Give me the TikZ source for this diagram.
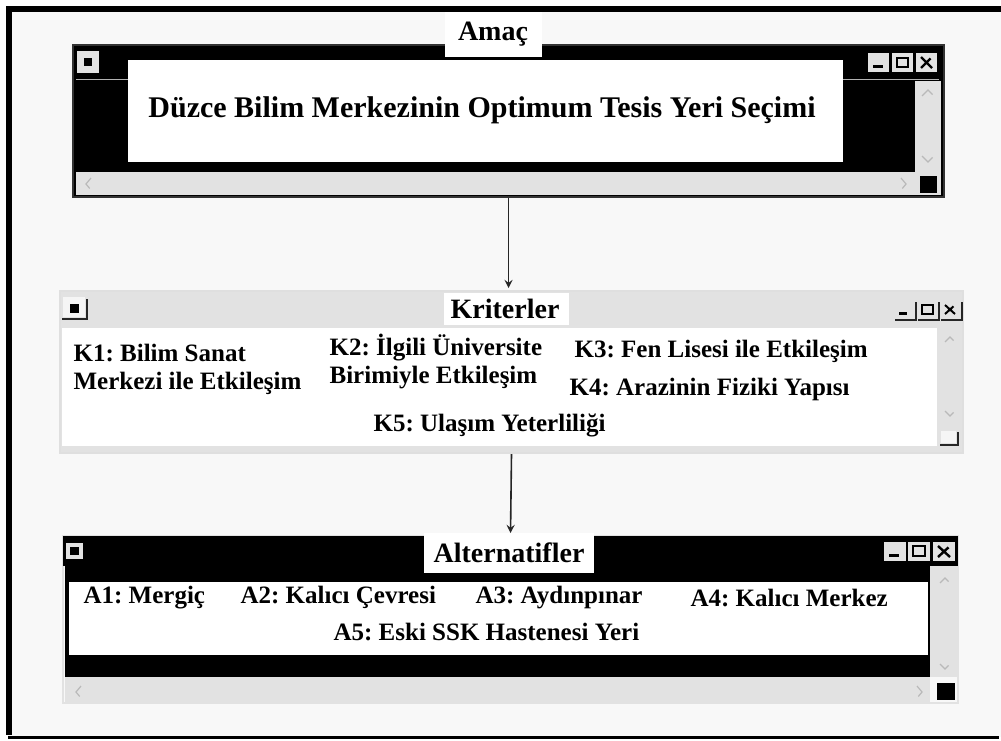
\documentclass[tikz,border=0pt]{standalone}
\usepackage{fontspec}
\setmainfont{Liberation Serif}
\usetikzlibrary{arrows, fit}

\definecolor{bargray}{HTML}{E2E2E2}
\definecolor{pagegray}{HTML}{F8F8F8}
\newcommand{\goalfont}{\fontsize{15}{18}\selectfont\bfseries}
\newcommand{\headfont}{\fontsize{14}{17}\selectfont\bfseries}
\newcommand{\itemfont}{\fontsize{12.5}{14}\selectfont\bfseries}
\frenchspacing

\begin{document}
\begin{tikzpicture}[
        x = 0.5pt, y = -0.5pt, % one unit is one pixel, y goes down
        > = stealth, % arrow head style
        shorten > = 1pt, % don't touch arrow head to window
        semithick % line style
    ]

    \tikzstyle{win}=[rectangle, inner sep = 0pt, line width = 1pt]
    \tikzstyle{head box}=[fill = white, inner sep = 0pt]
    \tikzstyle{head}=[font = \headfont, anchor = base, inner sep = 0pt]
    \tikzstyle{item}=[font = \itemfont, anchor = base west, inner sep = 0pt]
    \tikzstyle{item2}=[font = \itemfont, anchor = west, inner sep = 0pt, align = left]
    \tikzstyle{knob}=[fill = bargray]
    \tikzstyle{chev}=[draw = gray!55, line width = 0.6pt]

    \useasboundingbox (0,0) rectangle (1001,740);
    \fill[white] (0,0) rectangle (1001,740);
    \fill[pagegray] (8,8) rectangle (1001,737);
    \draw[line width = 2.8pt] (1001,9) -- (9,9) -- (9,737);
    \draw[line width = 1.5pt] (8,737) -- (1001,737);

    % goal window
    \node[win, draw = gray!40!black, fill = black, fit = {(73,45) (944,197)}] (goalwin) {};
    \draw[gray!60, line width = 0.5pt] (76,79.5) -- (941,79.5);
    \fill[bargray] (915,81) rectangle (941,195);
    \fill[bargray] (76,172) rectangle (915,195);
    \fill[black] (920,176) rectangle (937,193);
    \draw[chev] (922,96) -- (928,90) -- (934,96);
    \draw[chev] (922,156) -- (928,162) -- (934,156);
    \draw[chev] (91,178) -- (86,184) -- (91,190);
    \draw[chev] (901,178) -- (906,184) -- (901,190);
    \fill[knob] (77,51) rectangle (99,73);
    \fill[black] (84,58) rectangle (92,66);
    \foreach \bx in {868, 892, 916}
        \fill[knob] (\bx,53) rectangle ++(21,19);
    \fill[black] (873,65) rectangle (883,68);
    \draw[line width = 1pt] (897,58) rectangle (908,67);
    \draw[line width = 1.2pt] (921,57) -- (932,68) (921,68) -- (932,57);

    \node[head box, fit = {(128,60) (843,162)}] (goalbox) {};
    \node[font = \goalfont, anchor = base, inner sep = 0pt] (goal) at (482,117) {Düzce Bilim Merkezinin Optimum Tesis Yeri Seçimi};
    \node[head box, fit = {(445,12) (542,57)}] (amacbox) {};
    \node[head] (amac) at (493,40) {Amaç};

    % criteria window
    \node[win, draw = gray!25, fill = bargray, fit = {(60,291) (963,453)}] (critwin) {};
    \fill[white] (62,328) rectangle (937,446);
    \fill[gray!8] (63,297) rectangle (85,317);
    \fill[black] (70,304) rectangle (79,313);
    \draw[gray!30!black, line width = 1pt] (62,319) -- (87,319) -- (87,297);
    \foreach \bx in {895, 918, 941}
        \draw[gray!30!black, line width = 1pt] (\bx,320) -- ++(21,0) -- ++(0,-20);
    \fill[black] (899,312) rectangle (907,315);
    \draw[line width = 0.8pt] (922,305) rectangle (933,314);
    \draw[line width = 1pt] (945,305) -- (955,314) (945,314) -- (955,305);
    \draw[chev] (945,342) -- (950,337) -- (955,342);
    \draw[chev] (945,411) -- (950,416) -- (955,411);
    \fill[gray!8] (941,431) rectangle (956,443);
    \draw[gray!30!black, line width = 1pt] (940,445) -- (958,445) -- (958,430);

    \node[head box, fit = {(444,293) (569,325)}] (kritbox) {};
    \node[head] (krit) at (505,318) {Kriterler};
    \node[item2] (k1) at (73,369) {K1: Bilim Sanat\\Merkezi ile Etkileşim};
    \node[item2] (k2) at (329,361) {K2: İlgili Üniversite\\Birimiyle Etkileşim};
    \node[item] (k3) at (574,357) {K3: Fen Lisesi ile Etkileşim};
    \node[item] (k4) at (569,395) {K4: Arazinin Fiziki Yapısı};
    \node[item] (k5) at (373,431) {K5: Ulaşım Yeterliliği};

    % alternatives window
    \node[win, draw = bargray, fit = {(63,536) (958,703)}] (altwin) {};
    \fill[black] (63,536) rectangle (958,566);
    \fill[black] (65,566) rectangle (930,677);
    \fill[white] (69,582) rectangle (928,655);
    \fill[bargray] (930,566) rectangle (957,677);
    \fill[bargray] (65,677) rectangle (930,702);
    \fill[black] (937,683) rectangle (955,700);
    \draw[chev] (940,583) -- (945,578) -- (950,583);
    \draw[chev] (940,664) -- (945,669) -- (950,664);
    \draw[chev] (81,686) -- (76,692) -- (81,698);
    \draw[chev] (917,686) -- (922,692) -- (917,698);
    \fill[knob] (66,543) rectangle (83,559);
    \fill[black] (70,547) rectangle (79,555);
    \foreach \bx in {884, 908, 933}
        \fill[knob] (\bx,542) rectangle ++(22,19);
    \fill[black] (889,554) rectangle (899,557);
    \draw[line width = 1pt] (913,546) rectangle (925,556);
    \draw[line width = 1.2pt] (938,546) -- (950,557) (938,557) -- (950,546);

    \node[head box, fit = {(424,533) (594,573)}] (altbox) {};
    \node[head] (alt) at (509,562) {Alternatifler};
    \node[item] (a1) at (83,603) {A1: Mergiç};
    \node[item] (a2) at (240,603) {A2: Kalıcı Çevresi};
    \node[item] (a3) at (475,603) {A3: Aydınpınar};
    \node[item] (a4) at (690,606) {A4: Kalıcı Merkez};
    \node[item] (a5) at (333,640) {A5: Eski SSK Hastenesi Yeri};

    \draw[->, gray!30!black, line width = 0.8pt] (goalwin.south) -- (goalwin.south |- critwin.north);
    \draw[->, gray!30!black, line width = 0.8pt] (critwin.south) -- (altwin.north);

\end{tikzpicture}
\end{document}
